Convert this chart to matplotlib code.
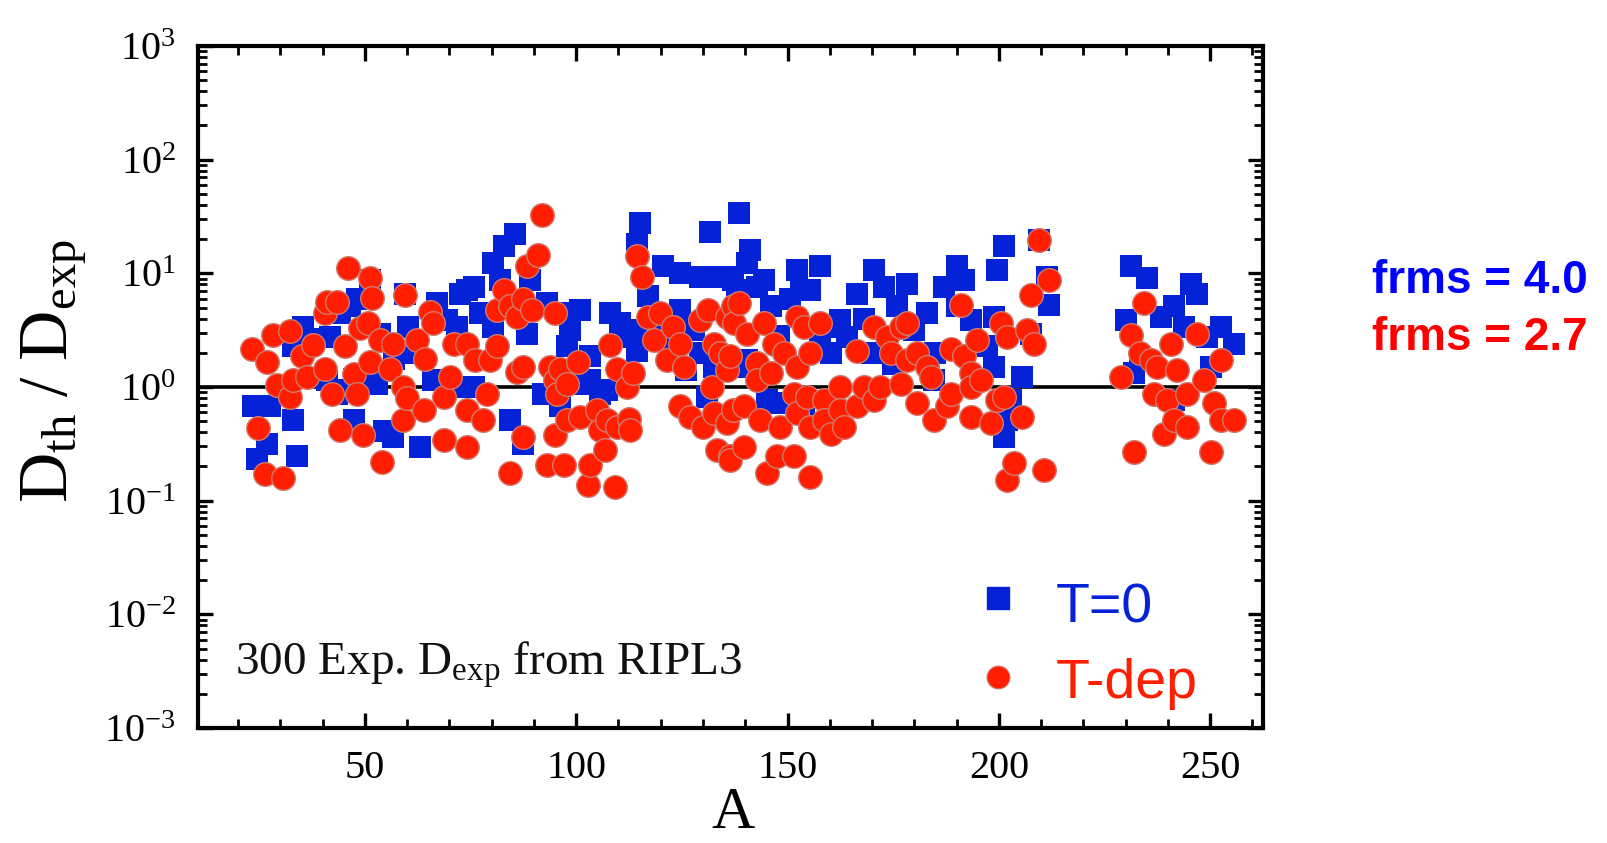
import matplotlib
matplotlib.use('Agg')
import matplotlib.pyplot as plt
from matplotlib.ticker import MultipleLocator, LogLocator, NullFormatter, FixedLocator, FixedFormatter

plt.rcParams['font.family'] = 'Liberation Serif'
plt.rcParams['mathtext.fontset'] = 'custom'
plt.rcParams['mathtext.rm'] = 'Liberation Serif'
plt.rcParams['mathtext.it'] = 'Liberation Serif:italic'
plt.rcParams['mathtext.bf'] = 'Liberation Serif:bold'

# ---------------- data ----------------
A_T0 = [23.6, 24.4, 26.8, 27.5, 33.1, 33.9, 33.1, 35.4, 38.0, 41.0, 41.7, 43.3, 44.1, 44.9, 46.5,
        47.3, 47.5, 48.1, 51.2, 51.2, 52.8, 53.6, 54.4, 56.7, 57.0, 59.5, 60.3, 62.0, 63.1, 66.2,
        67.0, 69.4, 71.7, 72.5, 72.5, 74.1, 75.7, 75.7, 77.2, 80.4, 80.4, 82.0, 82.8, 84.3, 85.5,
        87.5, 88.3, 89.1, 92.2, 93.0, 96.2, 96.2, 97.8, 98.5, 100.9, 100.9, 103.3, 103.3, 105.6, 107.2,
        108.0, 110.4, 112.0, 114.3, 114.3, 115.1, 115.1, 117.0, 119.0, 120.6, 122.0, 124.6, 124.6, 126.0,
        127.8, 129.3, 129.3, 130.9, 131.7, 132.5, 132.5, 136.5, 137.2, 138.1, 138.5, 138.9, 140.4, 140.4,
        141.2, 142.8, 144.4, 145.2, 146.0, 148.0, 148.3, 150.7, 152.3, 153.1, 153.9, 155.4, 157.8, 157.8,
        160.2, 160.2, 162.5, 164.1, 166.5, 168.0, 170.0, 170.4, 172.8, 175.0, 176.0, 178.3, 180.0, 183.1,
        184.6, 185.0, 187.0, 190.2, 190.2, 191.7, 193.3, 197.3, 198.9, 198.9, 199.6, 201.2, 201.2, 202.0,
        202.8, 205.5, 207.5, 209.5, 211.5, 211.8, 230.0, 231.2, 232.0, 233.5, 235.1, 238.3, 241.4, 241.4,
        243.8, 245.4, 247.0, 249.3, 250.1, 252.5, 255.7]
D_T0 = [0.676, 0.234, 0.316, 0.676, 0.513, 0.245, 2.29, 3.39, 2.63, 1.15, 2.75, 0.871, 4.47, 0.933, 5.13,
        0.513, 1.17, 5.89, 8.71, 1.23, 1.07, 2.95, 0.407, 0.363, 1.78, 6.61, 3.39, 2.0, 0.295, 1.15,
        5.50, 3.89, 3.39, 6.61, 1.0, 7.08, 7.59, 1.0, 4.47, 12.3, 3.39, 8.71, 17.4, 0.513, 22.4,
        0.316, 2.95, 8.71, 0.871, 5.50, 4.47, 0.676, 2.29, 3.16, 4.79, 1.07, 1.86, 1.15, 0.871, 0.933,
        4.47, 3.63, 2.75, 2.09, 18.2, 27.5, 3.16, 6.31, 3.98, 11.5, 2.24, 10.0, 4.79, 1.41,
        3.16, 9.33, 2.0, 0.813, 22.9, 9.33, 1.51, 9.33, 8.71, 7.08, 33.9, 1.51, 12.3, 1.74,
        16.2, 7.59, 8.71, 0.776, 5.13, 2.82, 0.724, 5.89, 10.7, 7.08, 0.631, 7.08, 11.5, 2.57,
        3.39, 2.0, 3.89, 2.75, 6.61, 3.98, 2.0, 10.7, 7.59, 1.58, 5.13, 8.13, 3.16, 4.47,
        1.15, 2.0, 7.59, 11.5, 5.13, 8.71, 3.89, 2.29, 4.17, 1.51, 10.7, 17.4, 0.363, 0.513,
        0.776, 1.23, 2.95, 19.5, 9.33, 5.25, 3.89, 11.5, 1.32, 1.74, 9.12, 4.17, 5.13, 0.776,
        3.39, 8.13, 6.61, 2.75, 1.51, 3.39, 2.40]

A_Tdep = [23.2, 24.8, 26.4, 26.8, 28.3, 29.1, 30.7, 32.3, 32.3, 33.1, 35.0, 36.2, 37.8, 40.5, 40.6,
          41.0, 42.1, 43.5, 44.1, 45.3, 46.1, 47.3, 48.1, 48.9, 49.6, 50.8, 51.2, 51.2, 51.6, 53.6,
          54.0, 56.0, 56.7, 59.1, 59.1, 59.5, 59.9, 62.3, 63.9, 64.2, 65.4, 66.2, 68.6, 68.6, 70.2,
          71.0, 74.1, 74.1, 74.1, 76.0, 78.0, 78.8, 79.6, 81.2, 81.2, 82.8, 84.3, 84.3, 85.9, 85.9,
          87.5, 87.5, 87.5, 88.3, 89.5, 91.0, 91.8, 93.0, 93.8, 95.0, 95.0, 95.0, 95.4, 96.2, 97.0,
          97.8, 97.8, 100.5, 100.9, 102.9, 103.3, 104.9, 105.6, 106.8, 107.2, 108.0, 109.2, 109.6, 109.6,
          112.0, 112.4, 112.8, 113.5, 114.3, 115.5, 117.1, 118.3, 119.9, 121.4, 123.0, 124.6, 124.6, 125.4,
          127.0, 129.3, 130.1, 131.3, 132.1, 132.5, 132.5, 133.3, 134.1, 135.6, 135.6, 135.6, 136.4, 136.5,
          136.5, 137.2, 137.2, 137.3, 138.5, 139.7, 139.7, 140.4, 142.8, 142.8, 143.6, 144.4, 145.2, 146.0,
          146.8, 147.5, 148.3, 149.1, 151.5, 151.5, 152.3, 152.3, 152.3, 153.9, 154.7, 155.4, 155.4, 155.4,
          157.8, 158.6, 158.6, 160.2, 162.5, 162.5, 163.3, 166.5, 166.5, 168.1, 170.4, 170.4, 172.0, 173.6,
          174.4, 176.8, 176.8, 178.3, 178.3, 180.7, 180.7, 183.1, 183.9, 184.6, 187.8, 188.6, 188.6, 191.0,
          191.7, 193.3, 193.3, 193.3, 194.9, 195.7, 198.1, 199.6, 200.4, 201.2, 202.0, 202.0, 203.6, 205.5,
          206.7, 207.5, 208.3, 209.5, 210.7, 211.8, 228.8, 231.2, 232.0, 233.5, 234.3, 235.9, 236.7, 237.5,
          239.1, 239.9, 240.7, 241.4, 242.2, 244.6, 244.6, 247.0, 248.5, 250.1, 250.9, 252.5, 252.5, 255.7]
D_Tdep = [2.14, 0.437, 0.170, 1.66, 2.88, 1.05, 0.158, 3.09, 0.813, 1.15, 1.86, 1.23, 2.34, 4.47, 1.45,
          5.62, 0.871, 5.62, 0.417, 2.29, 11.2, 1.29, 0.871, 3.31, 0.380, 3.63, 9.12, 1.66, 6.03, 2.57,
          0.219, 1.45, 2.40, 1.0, 0.513, 6.46, 0.794, 2.57, 0.631, 1.78, 4.57, 3.63, 0.813, 0.339, 1.23,
          2.40, 0.295, 2.40, 0.631, 1.74, 0.513, 0.871, 1.74, 4.79, 2.29, 7.08, 5.13, 0.174, 4.17, 1.35,
          5.89, 1.51, 0.363, 11.7, 4.79, 14.5, 32.4, 0.204, 1.51, 4.47, 1.15, 0.380, 0.871, 1.45, 0.204,
          1.07, 0.513, 1.66, 0.550, 0.138, 0.204, 0.631, 0.417, 0.282, 0.513, 2.34, 0.132, 1.45, 0.447,
          1.0, 0.525, 0.417, 1.32, 14.1, 9.33, 4.17, 2.57, 4.47, 1.74, 3.39, 2.40, 0.676, 1.51,
          0.550, 3.89, 0.447, 4.79, 1.0, 2.40, 0.589, 0.282, 2.0, 4.17, 1.41, 0.479, 0.245, 1.86,
          0.229, 5.13, 0.631, 3.63, 5.50, 0.676, 0.295, 2.95, 1.62, 1.15, 0.513, 3.63, 0.174, 1.32,
          2.40, 0.245, 0.447, 2.0, 0.871, 0.245, 4.17, 1.51, 0.589, 3.39, 0.813, 2.0, 0.447, 0.162,
          3.63, 0.776, 0.513, 0.389, 1.0, 0.631, 0.447, 2.09, 0.676, 1.0, 3.39, 0.776, 1.0, 2.75,
          2.0, 3.39, 1.07, 3.63, 1.74, 2.0, 0.724, 1.51, 1.23, 0.513, 0.676, 2.14, 0.871, 5.25,
          1.86, 1.32, 1.0, 0.550, 2.57, 1.15, 0.479, 0.776, 3.63, 0.813, 2.75, 0.151, 0.214, 0.550,
          3.16, 6.46, 2.40, 19.5, 0.186, 8.71, 1.23, 2.88, 0.269, 2.0, 5.50, 1.74, 0.871, 1.51,
          0.389, 0.776, 2.40, 0.513, 1.41, 0.871, 0.447, 2.95, 1.15, 0.269, 0.724, 1.74, 0.513, 0.513]

x_ticks = [50, 100, 150, 200, 250]
y_ticks = [1e-3, 1e-2, 1e-1, 1e0, 1e1, 1e2, 1e3]
y_tick_labels = [r'$10^{-3}$', r'$10^{-2}$', r'$10^{-1}$', r'$10^{0}$', r'$10^{1}$', r'$10^{2}$', r'$10^{3}$']
series_labels = ['T=0', 'T-dep']
frms_texts = ['frms = 4.0', 'frms = 2.7']

BLUE = '#0522d6'
RED = '#ff1e00'
RED_EDGE = '#d07a6e'

fig = plt.figure(figsize=(16.07, 8.43), dpi=100)
ax = fig.add_axes([0.1232, 0.1364, 0.6627, 0.809])

ax.axhline(1.0, color='black', lw=2.6, zorder=1)
ax.scatter(A_T0, D_T0, marker='s', s=255, color=BLUE, linewidths=0, zorder=2)
ax.scatter(A_Tdep, D_Tdep, marker='o', s=290, color=RED, edgecolors=RED_EDGE, linewidths=1.0, zorder=3)

ax.set_yscale('log')
ax.set_xlim(10.5, 262.5)
ax.set_ylim(1e-3, 1e3)

ax.xaxis.set_major_locator(FixedLocator(x_ticks))
ax.xaxis.set_minor_locator(MultipleLocator(10))
ax.yaxis.set_major_locator(FixedLocator(y_ticks))
ax.yaxis.set_major_formatter(FixedFormatter(y_tick_labels))
ax.yaxis.set_minor_locator(LogLocator(base=10, subs=range(2, 10), numticks=20))
ax.yaxis.set_minor_formatter(NullFormatter())

ax.tick_params(which='both', direction='in', top=True, right=True, colors='black')
ax.tick_params(which='major', length=11, width=2.4)
ax.tick_params(which='minor', length=6.5, width=2.0)
ax.tick_params(axis='x', which='major', labelsize=29, pad=16)
ax.tick_params(axis='y', which='major', labelsize=29, pad=16)
for sp in ax.spines.values():
    sp.set_linewidth(3)

# legend (manual, like original)
ax.scatter([0.751], [0.191], marker='s', s=235, color=BLUE, transform=ax.transAxes, zorder=5, clip_on=False)
ax.scatter([0.751], [0.075], marker='o', s=270, color=RED, edgecolors=RED_EDGE, linewidths=0.8,
           transform=ax.transAxes, zorder=5, clip_on=False)
ax.text(0.805, 0.154, series_labels[0], transform=ax.transAxes, color=BLUE, fontsize=40,
        family='Liberation Sans', va='baseline', ha='left')
ax.text(0.805, 0.044, series_labels[1], transform=ax.transAxes, color=RED, fontsize=40,
        family='Liberation Sans', va='baseline', ha='left')

ax.text(0.035, 0.078, r'300 Exp. D$_{\mathrm{exp}}$ from RIPL3', transform=ax.transAxes,
        fontsize=34, va='baseline', ha='left', color='#111111')

fig.text(0.0124, 0.56, r'$\mathrm{D_{th}\ /\ D_{exp}}$', rotation=90, fontsize=50,
         ha='left', va='center')
fig.text(0.456, 0.018, 'A', fontsize=43, ha='center', va='baseline')

fig.text(0.8538, 0.6524, frms_texts[0], color='#0000ff', fontsize=33, fontweight='bold',
         family='Liberation Sans', va='baseline', ha='left')
fig.text(0.8538, 0.5848, frms_texts[1], color='#ff0000', fontsize=33, fontweight='bold',
         family='Liberation Sans', va='baseline', ha='left')

fig.savefig('out.png', dpi=100, facecolor='white')
